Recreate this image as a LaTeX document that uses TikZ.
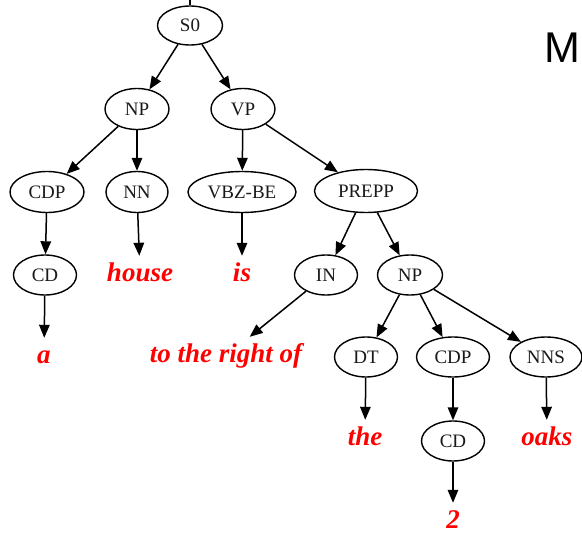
\documentclass[tikz,border=0pt]{standalone}
\usepackage{fontspec}
\setmainfont{Liberation Serif}
\newfontfamily\msans{Liberation Sans}
\usetikzlibrary{arrows.meta,shapes.geometric}
\begin{document}
\begin{tikzpicture}[x=1pt,y=-1pt,
  cat/.style={draw, ellipse, line width=1.4pt, inner sep=0pt,
    font=\fontsize{19}{20}\selectfont, text=black!90},
  sz/.style 2 args={minimum width=#1pt, minimum height=#2pt},
  word/.style={inner sep=0pt, inner xsep=2pt, minimum height=38pt,
    text height=18pt, text depth=6pt,
    font=\fontsize{27}{30}\selectfont\bfseries\itshape, text=red},
  edge/.style={-{Triangle[length=13pt,width=10.5pt]}, line width=1.5pt}]
\useasboundingbox (0,0) rectangle (582,535);

% phrase-structure nodes
\node[cat, sz={65}{39}] (S0) at (190,25.5) {S0};
\node[cat, sz={64}{41}] (NP) at (137,109) {NP};
\node[cat, sz={64}{41}] (VP) at (243,109) {VP};
\node[cat, sz={74}{41}] (CDP) at (47,192) {CDP};
\node[cat, sz={62}{41}] (NN) at (137,192) {NN};
\node[cat, sz={108}{41}] (VBZ) at (242,192) {VBZ-BE};
\node[cat, sz={103}{43}] (PREPP) at (366,191) {PREPP};
\node[cat, sz={63}{40}] (CD) at (45,275) {CD};
\node[cat, sz={63}{40}] (IN) at (326,275) {IN};
\node[cat, sz={65}{40}] (NPb) at (410,275) {NP};
\node[cat, sz={63}{40}] (DT) at (366,357) {DT};
\node[cat, sz={73}{40}] (CDPb) at (453,357) {CDP};
\node[cat, sz={72}{40}] (NNS) at (546,357) {NNS};
\node[cat, sz={63}{40}] (CDb) at (453,441) {CD};

% words
\node[word] (wHouse) at (140,275) {house};
\node[word] (wIs) at (242,275) {is};
\node[word] (wA) at (44,357) {a};
\node[word] (wRight) at (226,356) {to the right of};
\node[word] (wThe) at (365,439) {the};
\node[word] (wOaks) at (547,439) {oaks};
\node[word] (wTwo) at (453,522) {2};

% stray letter at the right edge
\node[inner sep=0pt, anchor=base west, font=\msans\fontsize{43}{45}\selectfont] (M) at (544,63) {M};

% incoming stub above the root
\coordinate (rootIn) at (190,0);
\draw[line width=1.5pt] (rootIn) -- (S0);

% edges
\draw[edge] (S0) -- (NP);
\draw[edge] (S0) -- (VP);
\draw[edge] (NP) -- (CDP);
\draw[edge] (NP) -- (NN);
\draw[edge] (VP) -- (VBZ);
\draw[edge] (VP) -- (PREPP);
\draw[edge] (CDP) -- (CD);
\draw[edge] (NN) -- (wHouse);
\draw[edge] (VBZ) -- (wIs);
\draw[edge] (PREPP) -- (IN);
\draw[edge] (PREPP) -- (NPb);
\draw[edge] (CD) -- (wA);
\draw[edge] (IN) -- (wRight);
\draw[edge] (NPb) -- (DT);
\draw[edge] (NPb) -- (CDPb);
\draw[edge] (NPb) -- (NNS);
\draw[edge] (DT) -- (wThe);
\draw[edge] (CDPb) -- (CDb);
\draw[edge] (NNS) -- (wOaks);
\draw[edge] (CDb) -- (wTwo);
\end{tikzpicture}
\end{document}
